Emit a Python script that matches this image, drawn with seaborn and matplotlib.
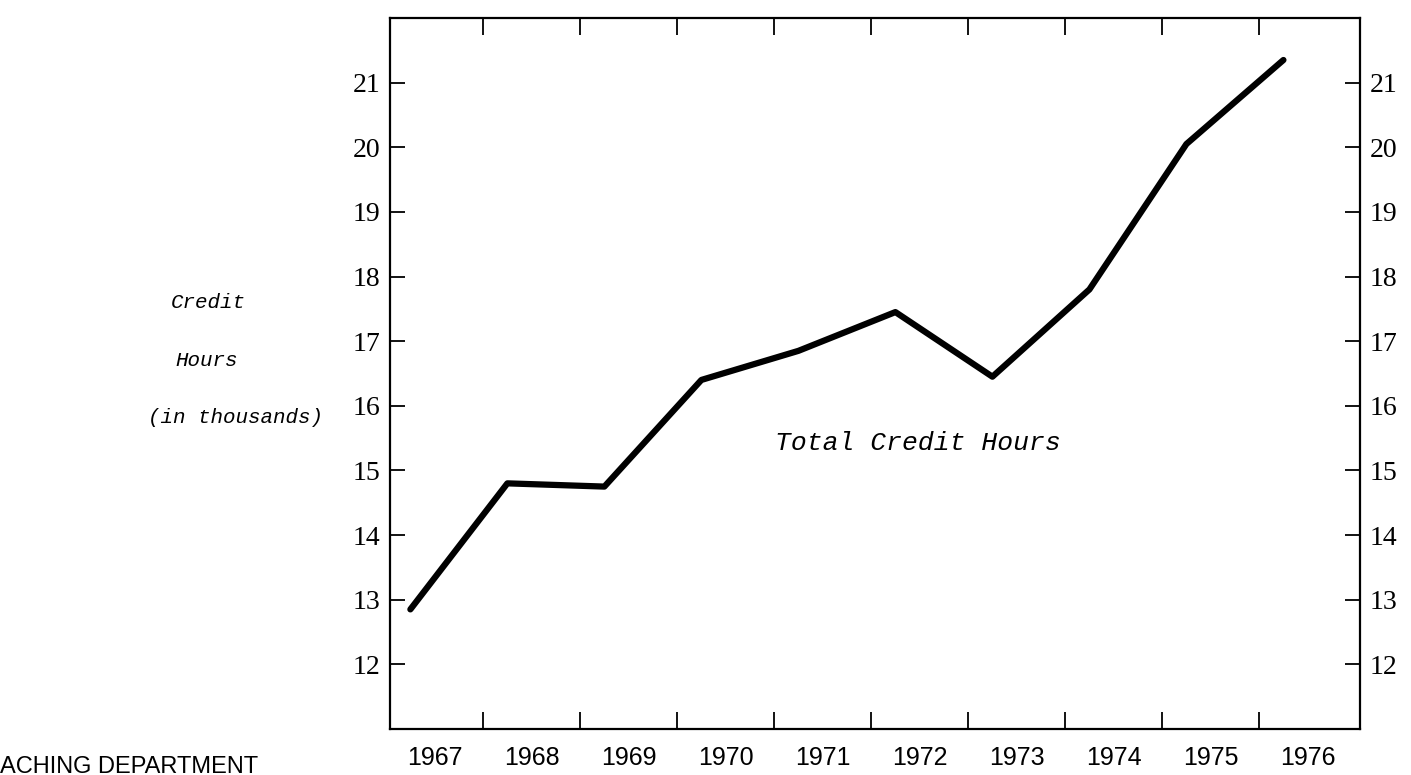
import matplotlib
matplotlib.use("Agg")
import matplotlib.pyplot as plt
import seaborn as sns
import pandas as pd

# Values
years = [1967, 1968, 1969, 1970, 1971, 1972, 1973, 1974, 1975, 1976]
credit_hours = [12.85, 14.8, 14.75, 16.4, 16.85, 17.45, 16.45, 17.8, 20.05, 21.35]
y_ticks = [12, 13, 14, 15, 16, 17, 18, 19, 20, 21]
year_labels = [str(y) for y in years]

df = pd.DataFrame({"year": years, "hours": credit_hours})

sns.set_style("white")
plt.rcParams['font.family'] = ['Liberation Serif', 'DejaVu Serif']
plt.rcParams['text.color'] = 'black'
plt.rcParams['xtick.color'] = 'black'
plt.rcParams['ytick.color'] = 'black'
plt.rcParams['xtick.labelcolor'] = 'black'
plt.rcParams['ytick.labelcolor'] = 'black'

fig = plt.figure(figsize=(14.11, 7.75), dpi=100)
ax = fig.add_axes([0.2764, 0.0594, 0.6875, 0.9174])

sns.lineplot(data=df, x="year", y="hours", color="black", linewidth=4.5,
             solid_capstyle="round", solid_joinstyle="round", ax=ax)

ax.set_xlim(1966.79, 1976.79)
ax.set_ylim(11, 22)
ax.set_xlabel("")
ax.set_ylabel("")

# tick marks sit between the years, labels in the middle of each year
ax.set_xticks([y + 0.75 for y in years[:-1]])
ax.set_xticks([y + 0.25 for y in years], labels=year_labels, minor=True)
ax.tick_params(axis="x", which="major", direction="in", length=12, width=1.3,
               top=True, bottom=True, labelbottom=False, color="black")
ax.tick_params(axis="x", which="minor", length=0, pad=12, labelsize=18, labelcolor="black")
for lbl in ax.get_xticklabels(minor=True):
    lbl.set_family("Liberation Sans")

ax.set_yticks(y_ticks)
ax.tick_params(axis="y", direction="in", length=11, width=1.3, left=True, right=True,
               labelleft=True, labelright=True, labelsize=20, pad=7,
               color="black", labelcolor="black")

for s in ax.spines.values():
    s.set_linewidth(1.6)
    s.set_color("black")

# y axis caption on the left
mono = dict(family="Liberation Mono", style="italic", fontsize=15, ha="center",
            va="center", color="black")
fig.text(208 / 1411, 1 - 302 / 775, "Credit", **mono)
fig.text(207 / 1411, 1 - 360 / 775, "Hours", **mono)
fig.text(235 / 1411, 1 - 418 / 775, "(in thousands)", **mono)

fig.text(918 / 1411, 1 - 443 / 775, "Total Credit Hours", family="Liberation Mono",
         style="italic", fontsize=19, ha="center", va="center", color="black")

fig.text(0.0, 0.003, "ACHING DEPARTMENT", family="Liberation Sans", fontsize=17,
         ha="left", va="baseline", color="black")

fig.savefig("out.png", dpi=100)
